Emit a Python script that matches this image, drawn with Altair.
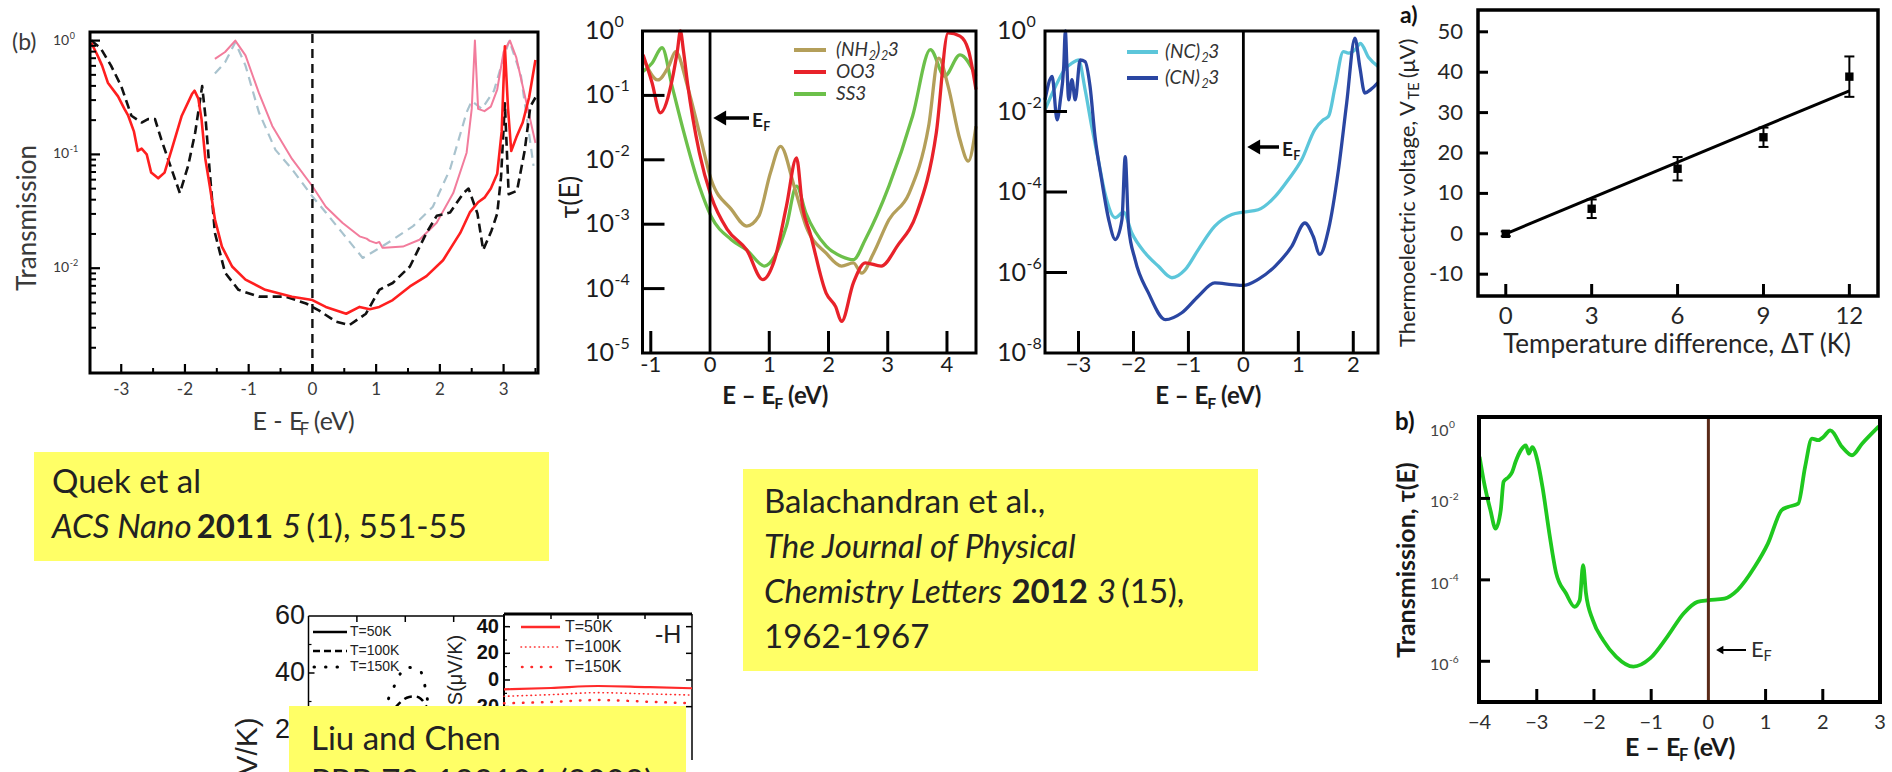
import altair as alt
import pandas as pd

FONT = "Lato"
ARIAL = "Liberation Sans"

# ------------------------------------------------------------------ data
# Quek et al. (b): transmission vs E - EF; values are log10(T)
quek_red_e = [-3.47, -3.38, -3.3, -3.21, -3.05, -2.95, -2.89, -2.8, -2.74, -2.68, -2.6, -2.53, -2.42,
              -2.32, -2.21, -2.05, -1.89, -1.85, -1.79, -1.74, -1.68, -1.61, -1.53, -1.42, -1.26, -1.05,
              -0.74, -0.32, 0.0, 0.21, 0.53, 0.74, 0.9, 1.05, 1.26, 1.53, 1.79, 2.05, 2.32, 2.47, 2.6,
              2.7, 2.8, 2.9, 2.97, 3.02, 3.07, 3.12, 3.2, 3.3, 3.4, 3.5]
quek_red_lg = [-0.02, -0.12, -0.22, -0.37, -0.49, -0.60, -0.66, -0.80, -0.97, -0.95, -1.0, -1.16, -1.21,
               -1.16, -0.96, -0.66, -0.47, -0.44, -0.51, -0.69, -1.04, -1.28, -1.57, -1.81, -1.985, -2.10,
               -2.19, -2.25, -2.28, -2.34, -2.40, -2.34, -2.36, -2.34, -2.28, -2.16, -2.07, -1.93, -1.69,
               -1.51, -1.42, -1.38, -1.30, -1.17, -0.80, -0.05, -0.60, -0.97, -0.85, -0.72, -0.50, -0.17]
quek_blk_e = [-3.47, -3.32, -3.16, -3.0, -2.84, -2.68, -2.58, -2.47, -2.37, -2.21, -2.08, -1.95, -1.84,
              -1.73, -1.68, -1.61, -1.53, -1.37, -1.16, -0.84, -0.42, -0.1, 0.1, 0.37, 0.58, 0.84, 1.05,
              1.26, 1.53, 1.79, 1.95, 2.16, 2.37, 2.45, 2.59, 2.68, 2.81, 2.9, 2.96, 3.02, 3.08, 3.21,
              3.33, 3.42, 3.5]
quek_blk_lg = [0.0, -0.07, -0.22, -0.40, -0.66, -0.72, -0.69, -0.69, -0.87, -1.13, -1.34, -1.10, -0.81,
               -0.40, -0.66, -1.16, -1.69, -2.04, -2.19, -2.25, -2.25, -2.31, -2.37, -2.47, -2.50, -2.40,
               -2.19, -2.13, -1.985, -1.69, -1.54, -1.51, -1.34, -1.30, -1.52, -1.84, -1.67, -1.52, -1.2,
               -0.55, -1.35, -1.32, -0.97, -0.58, -0.5]
quek_pink_e = [-1.53, -1.37, -1.21, -1.05, -0.84, -0.63, -0.32, 0.0, 0.21, 0.47, 0.74, 0.85, 0.9, 1.0,
               1.05, 1.1, 1.13, 1.42, 1.68, 1.95, 2.21, 2.42, 2.5, 2.55, 2.6, 2.7, 2.8, 2.9, 3.0, 3.1,
               3.2, 3.3, 3.4, 3.5]
quek_pink_lg = [-0.16, -0.10, 0.0, -0.13, -0.46, -0.75, -1.04, -1.28, -1.46, -1.60, -1.72, -1.74, -1.76,
                -1.78, -1.77, -1.82, -1.82, -1.81, -1.75, -1.60, -1.34, -0.985, -0.6, 0.0, -0.6, -0.62,
                -0.58, -0.43, -0.1, 0.0, -0.15, -0.4, -0.65, -0.9]
quek_grey_e = [-1.53, -1.37, -1.21, -1.05, -0.84, -0.58, -0.32, 0.0, 0.21, 0.47, 0.79, 1.0, 1.26, 1.58,
               1.89, 2.16, 2.42, 2.5, 2.66, 2.85, 3.0, 3.09, 3.27, 3.47]
quek_grey_lg = [-0.29, -0.19, -0.015, -0.22, -0.63, -0.96, -1.13, -1.37, -1.51, -1.69, -1.91, -1.84,
                -1.75, -1.63, -1.46, -1.13, -0.63, -0.53, -0.6, -0.44, -0.15, 0.0, -0.3, -1.1]

# Balachandran et al.: tau(E), log10 values
nh2_e = [-1.13, -0.88, -0.7, -0.58, -0.38, -0.18, 0.02, 0.36, 0.62, 0.82, 1.02, 1.19, 1.42, 1.62, 1.96,
         2.22, 2.42, 2.56, 2.76, 3.02, 3.36, 3.69, 3.86, 4.02, 4.22, 4.36, 4.49]
nh2_lg = [-0.42, -0.76, -0.55, -0.32, -0.86, -1.58, -2.31, -2.77, -3.03, -2.88, -2.2, -1.79, -2.41, -3.03,
          -3.45, -3.65, -3.60, -3.76, -3.45, -2.93, -2.52, -1.48, -0.42, -0.86, -1.69, -2.02, -1.48]
oo3_e = [-1.13, -0.98, -0.84, -0.64, -0.55, -0.5, -0.45, -0.38, -0.18, 0.02, 0.29, 0.62, 0.89, 1.09, 1.29,
         1.46, 1.56, 1.69, 1.96, 2.12, 2.22, 2.42, 2.62, 2.89, 3.16, 3.49, 3.82, 4.02, 4.22, 4.36, 4.49]
oo3_lg = [-0.37, -0.8, -1.27, -0.76, -0.3, 0.0, -0.3, -0.81, -1.89, -2.57, -3.08, -3.40, -3.86, -3.55,
          -2.72, -1.97, -2.72, -3.14, -4.07, -4.28, -4.51, -3.91, -3.60, -3.65, -3.34, -2.83, -1.58, -0.03,
          -0.08, -0.29, -0.91]
ss3_e = [-1.13, -0.98, -0.81, -0.64, -0.44, -0.18, 0.02, 0.36, 0.62, 0.92, 1.09, 1.29, 1.46, 1.62, 1.96,
         2.22, 2.42, 2.62, 3.02, 3.42, 3.72, 3.96, 4.22, 4.49]
ss3_lg = [-0.63, -0.5, -0.26, -0.86, -1.58, -2.41, -2.88, -3.24, -3.40, -3.65, -3.50, -3.03, -2.41, -2.83,
          -3.34, -3.50, -3.55, -3.24, -2.41, -1.32, -0.29, -0.70, -0.37, -0.70]
nc_e = [-3.61, -3.42, -3.24, -3.12, -3.0, -2.88, -2.76, -2.64, -2.52, -2.33, -2.18, -2.03, -1.79, -1.55,
        -1.30, -1.06, -0.82, -0.52, -0.21, 0.0, 0.27, 0.58, 0.82, 1.06, 1.30, 1.45, 1.55, 1.67, 1.82, 1.91,
        2.03, 2.13, 2.28, 2.45]
nc_lg = [-1.96, -1.38, -0.93, -0.80, -0.72, -1.46, -2.37, -3.20, -4.02, -4.64, -4.5, -5.02, -5.51, -5.84,
         -6.13, -5.93, -5.43, -4.85, -4.56, -4.50, -4.44, -4.11, -3.69, -3.20, -2.45, -2.21, -2.12, -1.38,
         -0.51, -0.55, -0.47, -0.31, -0.66, -0.88]
cn_e = [-3.61, -3.48, -3.39, -3.33, -3.27, -3.24, -3.21, -3.18, -3.12, -3.06, -2.97, -2.88, -2.79, -2.70,
        -2.58, -2.45, -2.33, -2.21, -2.15, -2.09, -1.97, -1.73, -1.42, -1.12, -0.82, -0.52, -0.21, 0.0,
        0.27, 0.58, 0.88, 1.12, 1.27, 1.39, 1.55, 1.73, 1.88, 2.03, 2.12, 2.21, 2.32, 2.45]
cn_lg = [-1.71, -1.13, -2.21, -1.71, -0.9, 0.0, -0.9, -1.71, -1.21, -1.71, -0.72, -0.76, -1.38, -2.62,
         -3.69, -4.69, -5.18, -4.69, -3.12, -4.85, -5.68, -6.50, -7.17, -7.0, -6.59, -6.26, -6.30, -6.32,
         -6.17, -5.84, -5.35, -4.77, -5.10, -5.55, -4.93, -3.45, -1.79, -0.18, -0.9, -1.54, -1.45, -1.28]

# thermoelectric voltage vs temperature difference
dt_k = [0, 3, 6, 9, 12]
vte_uv = [0.0, 6.2, 16.1, 23.9, 38.9]
vte_err = [0.6, 2.3, 2.9, 2.4, 5.0]
fit_dt = [0, 12]
fit_v = [0.0, 35.4]

# green transmission curve, log10 values
green_e = [-4.0, -3.93, -3.81, -3.72, -3.63, -3.58, -3.49, -3.43, -3.37, -3.28, -3.19, -3.14, -3.08, -2.99,
           -2.9, -2.78, -2.66, -2.49, -2.34, -2.25, -2.19, -2.14, -2.02, -1.84, -1.61, -1.31, -1.02, -0.72,
           -0.43, -0.19, 0.0, 0.28, 0.51, 0.81, 1.04, 1.28, 1.39, 1.57, 1.69, 1.81, 1.92, 2.01, 2.13, 2.34,
           2.51, 2.69, 2.98]
green_lg = [-0.98, -1.55, -2.29, -2.74, -2.29, -1.59, -1.47, -1.35, -1.10, -0.82, -0.70, -0.90, -0.74,
            -1.06, -1.72, -2.86, -3.84, -4.33, -4.66, -4.50, -3.64, -4.33, -4.99, -5.48, -5.89, -6.13,
            -5.93, -5.40, -4.82, -4.54, -4.50, -4.46, -4.25, -3.68, -3.11, -2.29, -2.21, -2.13, -1.23,
            -0.53, -0.57, -0.49, -0.33, -0.74, -0.94, -0.65, -0.23]

# Liu and Chen: Seebeck coefficient S (uV/K)
liu150_x = [-0.26, -0.2, -0.14, -0.08, 0.0, 0.14, 0.19, 0.22, 0.26]
liu150_s = [22.0, 28.8, 33.4, 37.8, 42.0, 41.4, 37.5, 32.3, 25.0]
liu100_x = [-0.25, -0.1, 0.04, 0.1, 0.16, 0.3]
liu100_s = [20.0, 28.0, 31.6, 31.8, 31.0, 22.0]
inset_x = [0.0, 0.25, 0.5, 0.75, 1.0]
inset50 = [-7.0, -6.0, -4.5, -5.3, -6.2]
inset100 = [-12.2, -11.0, -9.5, -10.4, -11.3]
inset150 = [-17.5, -16.5, -15.0, -16.2, -17.5]

# ------------------------------------------------------------------ text helpers
_W = {}
for _c, _w in zip("abcdefghijklmnopqrstuvwxyz",
                  [.51, .57, .47, .57, .53, .33, .51, .57, .25, .25, .51, .25, .85, .57, .57, .57, .57,
                   .38, .43, .36, .57, .52, .78, .50, .52, .46]):
    _W[_c] = _w
for _c, _w in zip("ABCDEFGHIJKLMNOPQRSTUVWXYZ",
                  [.68, .66, .67, .75, .57, .56, .73, .77, .29, .40, .68, .51, .92, .77, .81, .61, .81,
                   .63, .54, .60, .74, .68, 1.03, .67, .63, .61]):
    _W[_c] = _w
for _c in "0123456789":
    _W[_c] = .58
_W.update({" ": .19, "(": .31, ")": .31, ",": .21, ".": .21, "-": .37, "–": .56, "−": .58,
           "τ": .50, "μ": .58, "Δ": .70, "=": .58})


def text_w(s, size, bold=False, italic=False):
    f = (1.04 if bold else 1.0) * (0.93 if italic else 1.0)
    return sum(_W.get(c, .55) for c in s) * size * f


RUN = {
    "r": (1.0, 0.0, "normal", "normal"),
    "i": (1.0, 0.0, "normal", "italic"),
    "b": (1.0, 0.0, "bold", "normal"),
    "sub": (0.66, 0.30, "normal", "normal"),
    "isub": (0.66, 0.30, "normal", "italic"),
    "bsub": (0.66, 0.30, "bold", "normal"),
}
ONE = pd.DataFrame({"k": [0]})


def text_at(txt, x, y, size, align="left", baseline="middle", angle=0, color="#222222",
            weight="normal", style="normal", font=FONT, dy=0):
    props = dict(align=align, baseline=baseline, fontSize=size, font=font, color=color,
                 fontWeight=weight, fontStyle=style)
    if angle:
        props["angle"] = angle
    if dy:
        props["dy"] = dy
    return alt.Chart(pd.DataFrame({"t": [txt]})).mark_text(**props).encode(
        x=alt.value(x), y=alt.value(y), text="t:N")


def rich(segs, x, y, size, align="left", angle=0, color="#222222", font=FONT):
    """Lay out runs of differently styled text one after another on a common baseline."""
    info = []
    for s, k in segs:
        sc, dyf, wt, st = RUN[k]
        fs = size * sc
        info.append((s, fs, dyf * size, wt, st, text_w(s, fs, wt == "bold", st == "italic")))
    total = sum(i[-1] for i in info)
    cum = -{"left": 0, "center": total / 2, "right": total}[align]
    out = []
    for s, fs, dy, wt, st, w in info:
        lead = len(s) - len(s.lstrip(" "))
        shift = text_w(" " * lead, fs, wt == "bold", st == "italic")
        pos = cum + shift
        px, py = (x, y - pos) if angle == 270 else (x + pos, y)
        out.append(text_at(s.strip(" "), px, py, fs, angle=angle, color=color, weight=wt, style=st,
                           font=font, dy=dy))
        cum += w
    return out


def box(x0, x1, y0, y1, color="#FFFF66"):
    return alt.Chart(ONE).mark_rect(color=color).encode(
        x=alt.value(x0), x2=alt.value(x1), y=alt.value(y0), y2=alt.value(y1))


def seg(x0, x1, y, color, width, dash=None, cap="butt"):
    kw = dict(color=color, strokeWidth=width, strokeCap=cap)
    if dash:
        kw["strokeDash"] = dash
    return alt.Chart(ONE).mark_rule(**kw).encode(x=alt.value(x0), x2=alt.value(x1), y=alt.value(y))


def arrow_left(tip, tail, y, width, head):
    return [seg(tip + head * 0.04, tail, y, "black", width),
            alt.Chart(ONE).mark_point(shape="triangle-left", size=head, filled=True, color="black",
                                      opacity=1).encode(x=alt.value(tip + head ** 0.5 * 0.45),
                                                        y=alt.value(y))]


# ------------------------------------------------------------------ scale helpers
def lin(dom, rng):
    return alt.Scale(domain=dom, range=rng, nice=False, zero=False)


def logs(dom, rng):
    return alt.Scale(type="log", domain=dom, range=rng, nice=False)


def X(f, sc):
    return alt.X(f, type="quantitative", scale=sc, axis=None)


def Y(f, sc):
    return alt.Y(f, type="quantitative", scale=sc, axis=None)


def XD(v, sc):
    return alt.XDatum(v, type="quantitative", scale=sc, axis=None)


def YD(v, sc):
    return alt.YDatum(v, type="quantitative", scale=sc, axis=None)


def frame(xs, ys, xd, yd, width):
    return alt.Chart(ONE).mark_rect(fillOpacity=0, stroke="black", strokeWidth=width).encode(
        x=XD(xd[0], xs), x2=alt.X2Datum(xd[1]), y=YD(yd[0], ys), y2=alt.Y2Datum(yd[1]))


def hline(xs, ys, x0, x1, y, width, color="black"):
    return alt.Chart(ONE).mark_rule(color=color, strokeWidth=width).encode(
        x=XD(x0, xs), x2=alt.X2Datum(x1), y=YD(y, ys))


def vline(xs, ys, x, y0, y1, width, color="black", dash=None):
    kw = dict(color=color, strokeWidth=width)
    if dash:
        kw["strokeDash"] = dash
    return alt.Chart(ONE).mark_rule(**kw).encode(x=XD(x, xs), y=YD(y0, ys), y2=alt.Y2Datum(y1))


def curve(xs, ys, e, v, color, width, dash=None, interp="monotone", cap="butt"):
    kw = dict(color=color, strokeWidth=width, interpolate=interp, strokeCap=cap, strokeJoin="round")
    if dash:
        kw["strokeDash"] = dash
    return alt.Chart(pd.DataFrame({"e": e, "v": v})).mark_line(**kw).encode(x=X("e", xs), y=Y("v", ys))


def xticks(xs, ys, vals, at, length, thick, up=True):
    return alt.Chart(pd.DataFrame({"v": vals})).mark_tick(
        orient="vertical", size=length, thickness=thick, color="black", opacity=1,
        yOffset=(-length / 2 if up else length / 2)).encode(x=X("v", xs), y=YD(at, ys))


def yticks(xs, ys, vals, at, length, thick, right=True):
    return alt.Chart(pd.DataFrame({"v": vals})).mark_tick(
        orient="horizontal", size=length, thickness=thick, color="black", opacity=1,
        xOffset=(length / 2 if right else -length / 2)).encode(x=XD(at, xs), y=Y("v", ys))


def xlabels(xs, vals, labs, ypx, size, color, font=FONT):
    return alt.Chart(pd.DataFrame({"v": vals, "l": labs})).mark_text(
        align="center", baseline="middle", fontSize=size, color=color, font=font).encode(
        x=X("v", xs), y=alt.value(ypx), text="l:N")


def ylabels(ys, vals, labs, xpx, size, color, align="right", font=FONT, weight="normal", dy=0):
    props = dict(align=align, baseline="middle", fontSize=size, color=color, font=font, fontWeight=weight)
    if dy:
        props["dy"] = dy
    return alt.Chart(pd.DataFrame({"v": vals, "l": labs})).mark_text(**props).encode(
        x=alt.value(xpx), y=Y("v", ys), text="l:N")


def pow10_labels(ys, vals, exps, xpx, size, color, dy=0):
    df = pd.DataFrame({"v": vals, "b": ["10"] * len(vals), "e": exps})
    base = dict(align="left", baseline="middle", font=FONT, color=color)
    p1 = dict(base, fontSize=size)
    p2 = dict(base, fontSize=size * 0.64, dy=dy - size * 0.36)
    if dy:
        p1["dy"] = dy
    return [alt.Chart(df).mark_text(**p1).encode(x=alt.value(xpx), y=Y("v", ys), text="b:N"),
            alt.Chart(df).mark_text(**p2).encode(x=alt.value(xpx + text_w("10", size) + 0.5),
                                                 y=Y("v", ys), text="e:N")]


def tens(lg):
    return [10.0 ** v for v in lg]


layers = []

# ------------------------------------------------------------------ Liu and Chen (cropped figure)
lxs = lin([-1.0, 1.02], [308.5, 504])
lys = lin([0, 60], [787, 616])
layers += [
    hline(lxs, lys, -1.0, 1.02, 60, 1.5),
    vline(lxs, lys, -1.0, 0, 60, 1.5),
    xticks(lxs, lys, [-0.5, 0.0, 0.5], 60, 6, 1.5, up=False),
    yticks(lxs, lys, [20, 40], -1.0, 6, 1.5),
    yticks(lxs, lys, [30, 50], -1.0, 3, 1.2),
    ylabels(lys, [60, 40, 20], ["60", "40", "20"], 305, 27, "#1a1a1a", font=ARIAL),
    curve(lxs, lys, liu150_x, liu150_s, "black", 3, dash=[0.5, 13], cap="round"),
    curve(lxs, lys, liu100_x, liu100_s, "black", 2.5, dash=[8, 5]),
    seg(313, 347, 632, "black", 2.5),
    seg(313, 347, 651, "black", 2.5, dash=[7, 4]),
    seg(314, 347, 667, "black", 3, dash=[0.5, 11], cap="round"),
    text_at("T=50K", 350, 632, 14, font=ARIAL),
    text_at("T=100K", 350, 651, 14, font=ARIAL),
    text_at("T=150K", 350, 667, 14, font=ARIAL),
    text_at("S(μV/K)", 248, 770, 30, align="center", angle=270, font=ARIAL),
]
ixs = lin([0, 1], [504, 692])
iys = lin([-60, 49.5], [760, 614])
layers += [
    alt.Chart(ONE).mark_rect(color="white").encode(x=XD(0, ixs), x2=alt.X2Datum(1),
                                                    y=YD(-60, iys), y2=alt.Y2Datum(49.5)),
    hline(ixs, iys, 0, 1, 49.5, 3),
    vline(ixs, iys, 0, -60, 49.5, 2),
    vline(ixs, iys, 1, -60, 49.5, 1.5),
    yticks(ixs, iys, [40, 20, 0, -20], 0, 6, 1.5),
    yticks(ixs, iys, [30, 10, -10], 0, 3, 1.2),
    yticks(ixs, iys, [40, 20, 0, -20], 1, 6, 1.5, right=False),
    xticks(ixs, iys, [0.25, 0.5, 0.75], 49.5, 5, 1.5, up=False),
    ylabels(iys, [40, 20, 0, -20], ["40", "20", "0", "-20"], 499, 20, "#111111", font=ARIAL,
            weight="bold"),
    curve(ixs, iys, inset_x, inset150, "#ff2a2a", 2.5, dash=[0.5, 9], cap="round"),
    curve(ixs, iys, inset_x, inset100, "#ff2a2a", 1.6, dash=[0.5, 4], cap="round"),
    curve(ixs, iys, inset_x, inset50, "#ff2a2a", 2.2),
    seg(521, 560, 627, "#ff2a2a", 2.5),
    seg(521, 560, 647, "#ff2a2a", 1.6, dash=[0.5, 4], cap="round"),
    seg(522, 560, 667, "#ff2a2a", 2.5, dash=[0.5, 9], cap="round"),
    text_at("T=50K", 565, 627, 16, font=ARIAL),
    text_at("T=100K", 565, 647, 16, font=ARIAL),
    text_at("T=150K", 565, 667, 16, font=ARIAL),
    text_at("-H", 655, 635, 25, font=ARIAL),
    text_at("S(μV/K)", 456, 670, 20, align="center", angle=270, font=ARIAL),
]
layers.append(box(289, 686, 706, 800))
layers.append(text_at("Liu and Chen", 311, 740, 33))
layers.append(text_at("PRB 79, 193101 (2009)", 311, 783, 33))

# ------------------------------------------------------------------ Quek et al. panel (b)
qxd, qyd = [-3.49, 3.54], [0.0012, 1.19]
qxs = lin(qxd, [90, 538])
qys = logs(qyd, [373, 32])
QC = "#3a3a3a"
layers += [
    curve(qxs, qys, quek_grey_e, tens(quek_grey_lg), "#a9c3ce", 2.2, dash=[9, 6], interp="linear"),
    curve(qxs, qys, quek_pink_e, tens(quek_pink_lg), "#f27c9c", 2.0, interp="linear"),
    curve(qxs, qys, quek_blk_e, tens(quek_blk_lg), "#111111", 2.6, dash=[9, 5], interp="linear"),
    curve(qxs, qys, quek_red_e, tens(quek_red_lg), "#ff1f1f", 2.6, interp="linear"),
    vline(qxs, qys, 0, qyd[0], qyd[1], 2.4, color="#111111", dash=[9, 6]),
    frame(qxs, qys, qxd, qyd, 3),
    xticks(qxs, qys, [-3, -2, -1, 0, 1, 2, 3], qyd[0], 9, 2.2),
    xticks(qxs, qys, [-2.5, -1.5, -0.5, 0.5, 1.5, 2.5, 3.5], qyd[0], 5, 2),
    yticks(qxs, qys, [1.0, 0.1, 0.01], qxd[0], 10, 2.2),
    yticks(qxs, qys, [k * 10.0 ** n for n in (-3, -2, -1) for k in range(2, 10) if k * 10.0 ** n > 0.0012],
           qxd[0], 6, 2),
    xlabels(qxs, [-3, -2, -1, 0, 1, 2, 3], ["-3", "-2", "-1", "0", "1", "2", "3"], 390, 17, QC),
    text_at("(b)", 12, 43, 23, color=QC),
    text_at("Transmission", 28, 218, 26, align="center", angle=270, color=QC),
]
layers += pow10_labels(qys, [1.0, 0.1, 0.01], ["0", "-1", "-2"], 53, 14, QC)
layers += rich([("E - E", "r"), ("F", "sub"), (" (eV)", "r")], 306, 422, 25, align="center", color=QC)

# ------------------------------------------------------------------ Balachandran, left panel
bxd, byd = [-1.14, 4.49], [1e-5, 1.0]
bxs = lin(bxd, [642.5, 976])
bys = logs(byd, [353, 31])
BC = "#1c1c1c"
layers += [
    curve(bxs, bys, ss3_e, tens(ss3_lg), "#6cc04a", 3.3),
    curve(bxs, bys, nh2_e, tens(nh2_lg), "#b49f5a", 3.3),
    curve(bxs, bys, oo3_e, tens(oo3_lg), "#e8222a", 3.3),
    vline(bxs, bys, 0, byd[0], byd[1], 2.8),
    frame(bxs, bys, bxd, byd, 3),
    xticks(bxs, bys, [-1, 1, 2, 3, 4], byd[0], 22, 3),
    yticks(bxs, bys, [0.1, 0.01, 1e-3, 1e-4], bxd[0], 22, 3),
    xlabels(bxs, [-1, 0, 1, 2, 3, 4], ["-1", "0", "1", "2", "3", "4"], 365, 22, BC),
    text_at("τ(E)", 571, 197, 27, align="center", angle=270, color=BC),
    seg(794, 826, 50, "#b49f5a", 4),
    seg(794, 826, 72, "#e8222a", 4),
    seg(794, 826, 94, "#6cc04a", 4),
]
layers += pow10_labels(bys, [1.0, 0.1, 0.01, 1e-3, 1e-4, 1e-5], ["0", "-1", "-2", "-3", "-4", "-5"], 585, 25, BC)
layers += rich([("(NH", "i"), ("2", "isub"), (")", "i"), ("2", "isub"), ("3", "i")], 836, 50, 19, color="#333333")
layers += rich([("OO3", "i")], 836, 72, 19, color="#333333")
layers += rich([("SS3", "i")], 836, 94, 19, color="#333333")
layers += arrow_left(713, 749, 118, 3.5, 220)
layers += rich([("E", "b"), ("F", "bsub")], 752, 121, 19, color=BC)
layers += rich([("E – E", "b"), ("F", "bsub"), (" (eV)", "b")], 778, 397, 24, align="center", color=BC)

# ------------------------------------------------------------------ Balachandran, right panel
cxd, cyd = [-3.61, 2.45], [1e-8, 1.0]
cxs = lin(cxd, [1045, 1378])
cys = logs(cyd, [353, 31])
layers += [
    curve(cxs, cys, nc_e, tens(nc_lg), "#5cc6da", 3.3),
    curve(cxs, cys, cn_e, tens(cn_lg), "#2a46a2", 3.3),
    vline(cxs, cys, 0, cyd[0], cyd[1], 2.8),
    frame(cxs, cys, cxd, cyd, 3),
    xticks(cxs, cys, [-3, -2, -1, 1, 2], cyd[0], 22, 3),
    yticks(cxs, cys, [1e-2, 1e-4, 1e-6], cxd[0], 22, 3),
    xlabels(cxs, [-3, -2, -1, 0, 1, 2], ["−3", "−2", "−1", "0", "1", "2"], 365, 22, BC),
    seg(1127, 1158, 52, "#5cc6da", 4),
    seg(1127, 1158, 78, "#2a46a2", 4),
]
layers += pow10_labels(cys, [1.0, 1e-2, 1e-4, 1e-6, 1e-8], ["0", "-2", "-4", "-6", "-8"], 997, 25, BC)
layers += rich([("(NC)", "i"), ("2", "isub"), ("3", "i")], 1165, 52, 19, color="#333333")
layers += rich([("(CN)", "i"), ("2", "isub"), ("3", "i")], 1165, 78, 19, color="#333333")
layers += arrow_left(1247, 1279, 147, 3.5, 220)
layers += rich([("E", "b"), ("F", "bsub")], 1282, 150, 19, color=BC)
layers += rich([("E – E", "b"), ("F", "bsub"), (" (eV)", "b")], 1211, 397, 24, align="center", color=BC)

# ------------------------------------------------------------------ a) thermoelectric voltage
txd, tyd = [-0.97, 13.0], [-15.4, 55.4]
txs = lin(txd, [1478, 1878])
tys = lin(tyd, [296, 10])
TC = "#262626"
tdf = pd.DataFrame({"dt": dt_k, "v": vte_uv,
                    "lo": [v - e for v, e in zip(vte_uv, vte_err)],
                    "hi": [v + e for v, e in zip(vte_uv, vte_err)]})
layers += [
    curve(txs, tys, fit_dt, fit_v, "black", 3, interp="linear"),
    alt.Chart(tdf).mark_rule(color="black", strokeWidth=2).encode(
        x=X("dt", txs), y=Y("lo", tys), y2=alt.Y2("hi")),
    alt.Chart(tdf).mark_tick(orient="horizontal", size=10, thickness=2, color="black", opacity=1).encode(
        x=X("dt", txs), y=Y("lo", tys)),
    alt.Chart(tdf).mark_tick(orient="horizontal", size=10, thickness=2, color="black", opacity=1).encode(
        x=X("dt", txs), y=Y("hi", tys)),
    alt.Chart(tdf).mark_square(size=70, color="black", opacity=1).encode(x=X("dt", txs), y=Y("v", tys)),
    frame(txs, tys, txd, tyd, 3.5),
    xticks(txs, tys, [0, 3, 6, 9, 12], tyd[0], 12, 3),
    yticks(txs, tys, [-10, 0, 10, 20, 30, 40, 50], txd[0], 10, 3),
    xlabels(txs, [0, 3, 6, 9, 12], ["0", "3", "6", "9", "12"], 317, 24, TC),
    ylabels(tys, [50, 40, 30, 20, 10, 0, -10], ["50", "40", "30", "20", "10", "0", "-10"], 1463, 22, TC),
    text_at("a)", 1400, 16, 23, color="#111111", weight="bold"),
    text_at("Temperature difference, ΔT (K)", 1677, 345, 26, align="center", color=TC),
]
layers += rich([("Thermoelectric voltage, V", "r"), ("TE", "sub"), (" (μV)", "r")], 1408, 192, 22,
               align="center", angle=270, color=TC)

# ------------------------------------------------------------------ b) green transmission
gxd, gyd = [-4.01, 3.0], [1e-7, 1.0]
gxs = lin(gxd, [1479, 1880])
gys = logs(gyd, [702, 417])
GC = "#2e2e2e"
layers += [
    curve(gxs, gys, green_e, tens(green_lg), "#1fc81f", 3.8),
    vline(gxs, gys, 0, gyd[0], gyd[1], 3, color="#5a2a18"),
    frame(gxs, gys, gxd, gyd, 4),
    xticks(gxs, gys, [-3, -2, -1, 1, 2], gyd[0], 13, 3),
    yticks(gxs, gys, [1e-2, 1e-4, 1e-6], gxd[0], 11, 3),
    xlabels(gxs, [-4, -3, -2, -1, 0, 1, 2, 3], ["−4", "−3", "−2", "−1", "0", "1", "2", "3"], 723, 20, GC),
    text_at("b)", 1395, 423, 24, color="#111111", weight="bold"),
    text_at("Transmission, τ(E)", 1407, 560, 25, align="center", angle=270, color="#1a1a1a",
            weight="bold"),
]
layers += pow10_labels(gys, [1.0], ["0"], 1430, 16, "#444444", dy=14)
layers += pow10_labels(gys, [1e-2, 1e-4, 1e-6], ["-2", "-4", "-6"], 1430, 16, "#444444", dy=4)
layers += arrow_left(1716, 1746, 650, 2, 70)
layers += rich([("E", "r"), ("F", "sub")], 1751, 650, 22, color=GC)
layers += rich([("E – E", "b"), ("F", "bsub"), (" (eV)", "b")], 1683, 748, 25, align="center",
               color="#1a1a1a")

# ------------------------------------------------------------------ citation boxes
layers.append(box(34, 549, 452, 561))
layers.append(text_at("Quek et al", 52, 483, 33))
layers += rich([("ACS Nano", "i"), (" 2011", "b"), (" 5", "i"), (" (1), 551-55", "r")], 52, 528, 33)

layers.append(box(743, 1258, 469, 671))
layers.append(text_at("Balachandran et al.,", 764, 503, 33))
layers.append(text_at("The Journal of Physical", 764, 548, 33, style="italic"))
layers += rich([("Chemistry Letters", "i"), (" 2012", "b"), (" 3", "i"), (" (15),", "r")], 764, 593, 33)
layers.append(text_at("1962-1967", 764, 638, 33))

chart = alt.layer(*layers).resolve_scale(x="independent", y="independent").properties(
    width=1892, height=772, padding=0, autosize=alt.AutoSizeParams(type="none"),
    background="white").configure_view(strokeWidth=0)

chart.save("out.html", embed_options={"renderer": "svg", "actions": False})
